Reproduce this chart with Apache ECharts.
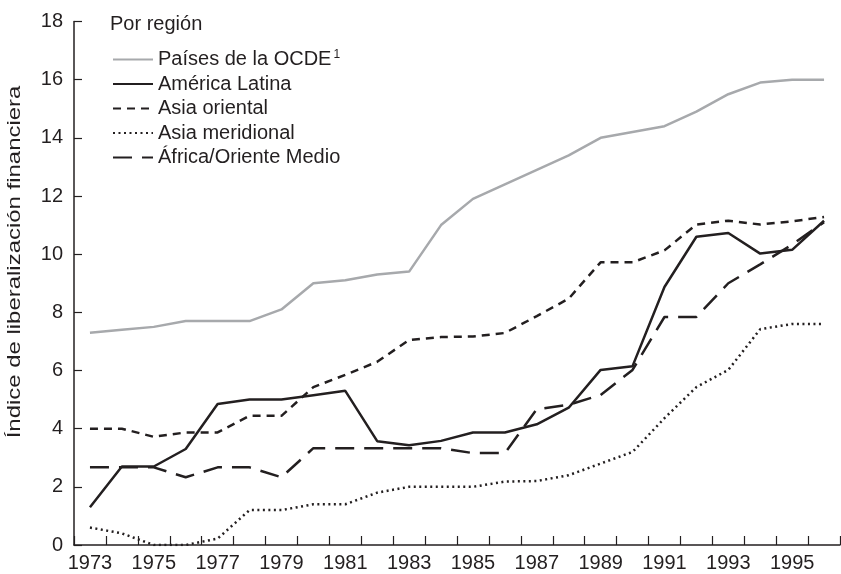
<!DOCTYPE html>
<html>
<head>
<meta charset="utf-8">
<script src="https://cdn.jsdelivr.net/npm/echarts@6/dist/echarts.min.js"></script>
<style>html,body{margin:0;padding:0;background:#fff;}#c{width:841px;height:574px;}</style>
</head>
<body>
<div id="c"></div>
<script>
const years = ['1973','1974','1975','1976','1977','1978','1979','1980','1981','1982','1983','1984','1985','1986','1987','1988','1989','1990','1991','1992','1993','1994','1995','1996'];
const yTicks = [0,2,4,6,8,10,12,14,16,18];
const seriesNames = ['Países de la OCDE','América Latina','Asia oriental','Asia meridional','África/Oriente Medio'];
const ocde = [7.3,7.4,7.5,7.7,7.7,7.7,8.1,9.0,9.1,9.3,9.4,11.0,11.9,12.4,12.9,13.4,14.0,14.2,14.4,14.9,15.5,15.9,16.0,16.0];
const americaLatina = [1.3,2.7,2.7,3.3,4.85,5.0,5.0,5.15,5.3,3.57,3.43,3.58,3.87,3.87,4.15,4.72,6.02,6.15,8.87,10.6,10.73,10.02,10.15,11.15];
const asiaOriental = [4.0,4.0,3.72,3.87,3.87,4.44,4.44,5.43,5.85,6.3,7.05,7.15,7.17,7.29,7.87,8.47,9.72,9.72,10.13,11.02,11.15,11.02,11.13,11.28];
const asiaMeridional = [0.6,0.4,0.0,0.0,0.22,1.2,1.2,1.4,1.4,1.8,2.0,2.0,2.0,2.18,2.2,2.4,2.8,3.2,4.36,5.43,6.02,7.42,7.6,7.6];
const africaOM = [2.67,2.67,2.67,2.33,2.67,2.67,2.33,3.33,3.33,3.33,3.33,3.33,3.16,3.16,4.67,4.82,5.16,6.02,7.84,7.84,9.0,9.65,10.33,11.1];
const yTitle = 'Índice de liberalización financiera';
const legendTitle = 'Por región';

const ink = '#231f20';
const grey = '#a7a9ac';
const font = 'Liberation Sans, Arial, Helvetica, sans-serif';
const chart = echarts.init(document.getElementById('c'));
function mk(name, data, color, type) {
  return {
    name: name, type: 'line', data: data, symbol: 'none', showSymbol: false,
    lineStyle: { color: color, width: 2.5, type: type, cap: 'butt' },
    itemStyle: { color: color },
    animation: false
  };
}
chart.setOption({
  animation: false,
  textStyle: { fontFamily: font },
  title: {
    text: legendTitle, left: 105, top: 9,
    textStyle: { fontSize: 20, fontWeight: 'normal', color: ink, fontFamily: font }
  },
  legend: {
    orient: 'vertical', left: 107, top: 44,
    itemWidth: 40, itemHeight: 14, itemGap: 4.5, itemTextGap: 6,
    itemStyle: { opacity: 0 },
    data: seriesNames,
    formatter: function (n) { return n === seriesNames[0] ? '{t|' + n + '}{s|1}' : n; },
    textStyle: {
      fontSize: 20, color: ink, fontFamily: font,
      rich: {
        t: { fontSize: 20, color: ink, fontFamily: font },
        s: { fontSize: 12, color: ink, verticalAlign: 'top', padding: [0, 0, 9, 2], fontFamily: font }
      }
    }
  },
  graphic: [{
    type: 'text', x: 15, y: 262, rotation: Math.PI / 2, scaleX: 1.33,
    style: { text: yTitle, fontSize: 18, fontFamily: font, fill: ink, align: 'center', verticalAlign: 'middle' }
  }],
  grid: { left: 74, right: 1, top: 21.5, bottom: 29 },
  xAxis: {
    type: 'category', data: years, boundaryGap: true,
    axisLine: { show: true, lineStyle: { color: ink, width: 1.5 } },
    axisTick: { show: true, inside: true, length: 9, interval: 0, lineStyle: { color: ink, width: 1.2 } },
    axisLabel: { interval: 1, fontSize: 20, color: ink, margin: 8 },
    splitLine: { show: false }
  },
  yAxis: {
    type: 'value', min: yTicks[0], max: yTicks[yTicks.length - 1], interval: 2,
    axisLine: { show: true, lineStyle: { color: ink, width: 1.5 } },
    axisTick: { show: true, inside: true, length: 8, lineStyle: { color: ink, width: 1.2 } },
    axisLabel: { fontSize: 20, color: ink, margin: 11 },
    splitLine: { show: false }
  },
  series: [
    mk(seriesNames[0], ocde, grey, 'solid'),
    mk(seriesNames[1], americaLatina, ink, 'solid'),
    mk(seriesNames[2], asiaOriental, ink, [8, 6]),
    mk(seriesNames[3], asiaMeridional, ink, [2, 3.5]),
    mk(seriesNames[4], africaOM, ink, [19, 10])
  ]
});
</script>
</body>
</html>
